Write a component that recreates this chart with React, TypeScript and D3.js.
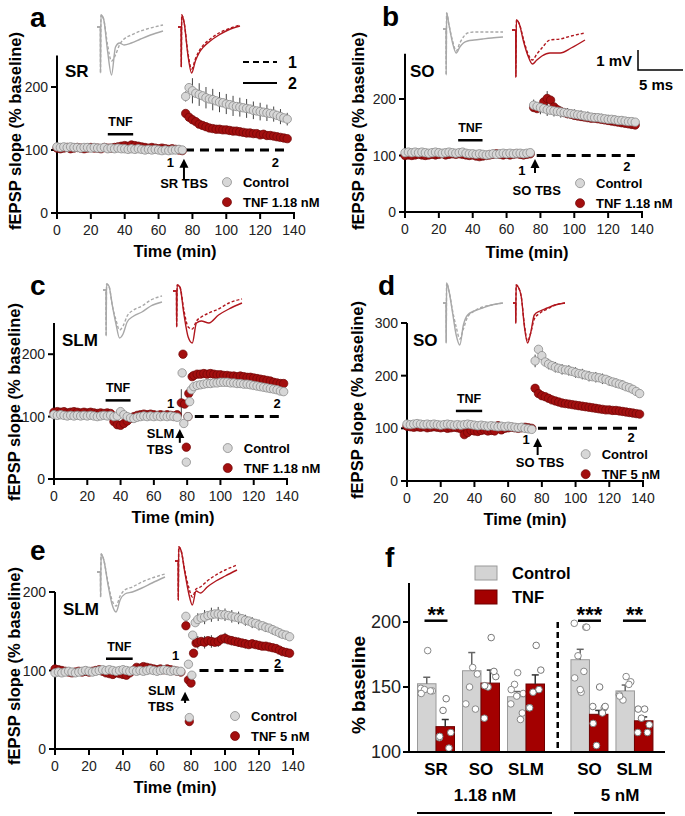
import React from "react";
import * as d3 from "d3";

const FONT = "'Liberation Sans', Arial, Helvetica, sans-serif";
const GRAY_FILL = "#d7d7d7";
const GRAY_STROKE = "#8c8c8c";
const RED_FILL = "#a30f0f";
const RED_STROKE = "#6e0606";
const GRAY_LINE = "#a8a8a8";
const RED_LINE = "#b0161d";

// ---------- time-course data (% baseline) ----------
const BASE_TIMES = d3.range(0, 75, 2); // 0..74 min, every 2 min

// Panel a (SR, 1.18 nM)
const A_CTRL_BASE = [105,104,105,104,105,104,104,103,104,104,103,104,103,103,104,102,103,102,103,102,102,101,102,101,102,101,100,101,100,101,100,99,100,99,100,100,101,100];
const A_TNF_BASE = [103,102,103,104,102,103,104,103,102,103,104,103,103,102,104,103,103,104,105,106,107,106,108,107,106,105,104,103,104,103,102,103,102,101,102,101,100,99];
const A_POST_START = 76;
const A_CTRL_POST = [185,199,194,190,188,186,183,181,180,178,176,175,173,172,170,169,168,167,166,165,163,162,161,160,159,158,157,155,153,151,149];
const A_TNF_POST = [158,152,148,145,141,139,137,135,134,133,133,132,132,131,130,130,129,128,127,127,126,126,124,125,123,123,122,121,120,119,118];
const A_CTRL_SEM = [8,20,18,17,17,16,16,16,15,15,14,14,13,12,12,10];
const A_TNF_SEM = [4,4,4,4,4,4,4,4,4,4,4,4,4,4,4,4];

// Panel b (SO, 1.18 nM)
const B_CTRL_BASE = [105,106,105,106,105,106,105,104,105,106,105,104,105,106,105,104,105,106,104,103,103,102,103,102,101,102,103,102,103,104,103,104,103,104,104,103,104,105];
const B_TNF_BASE = [100,101,100,101,102,101,100,101,102,101,102,103,101,102,103,102,103,102,101,100,101,99,98,99,100,101,102,103,102,101,102,101,102,103,102,101,102,103];
const B_POST_START = 76;
const B_CTRL_POST = [189,187,185,183,181,180,179,178,177,176,175,174,173,172,171,170,169,168,167,167,166,165,164,164,163,162,162,161,160,160,159];
const B_TNF_POST = [185,183,186,195,201,198,186,181,178,176,174,173,171,170,169,168,167,166,166,165,164,163,162,161,160,159,158,157,156,155,154];
const B_CTRL_SEM = [10,12,11,10,10,9,9,9,9,8,8,8,8,7,7,7];
const B_TNF_SEM = [5,5,13,6,5,5,5,5,5,5,5,5,5,5,5,5];

// Panel c (SLM, 1.18 nM)
const C_CTRL_BASE = [103,102,103,102,101,102,101,102,101,102,101,102,101,100,101,102,101,102,100,101,108,103,100,98,97,99,100,101,100,101,100,101,100,101,100,101,100,99];
const C_TNF_BASE = [107,108,107,108,106,107,108,107,106,107,106,107,106,105,106,105,106,105,92,87,86,89,93,97,100,102,103,104,103,104,103,102,103,102,103,102,101,103];
const C_CTRL_TRANS_T = [77, 78, 79.5, 80.5, 81.5, 82.5];
const C_CTRL_TRANS_V = [170, 89, 27, 100, 124, 143];
const C_TNF_TRANS_T = [76.5, 77.5, 78.5, 79.5, 80.5, 81, 83];
const C_TNF_TRANS_V = [122, 200, 120, 51, 100, 137, 164];
const C_TNF_TRANS_SEM = [22, 0, 0, 0, 0, 0, 0];
const C_POST_START = 84;
const C_CTRL_POST = [148,150,151,152,153,153,154,154,155,155,155,154,154,153,153,152,152,151,150,149,148,147,146,145,144,143,141,140];
const C_TNF_POST = [166,168,168,169,168,169,168,167,167,166,166,165,165,164,165,164,163,163,162,161,160,159,158,157,155,154,153,153];
const C_CTRL_SEM = [5,5,5,5,5,5,5,5,5,5,5,5,5,5];
const C_TNF_SEM = [5,5,5,5,5,5,5,5,5,5,5,5,5,5];

// Panel d (SO, 5 nM)
const D_CTRL_BASE = [108,107,108,109,108,107,108,107,108,107,106,107,108,107,106,107,106,107,108,107,106,105,106,105,104,105,104,103,104,103,104,103,102,101,102,100,99,98];
const D_TNF_BASE = [104,103,102,103,102,103,101,102,103,102,101,102,100,101,102,101,99,88,92,96,95,94,96,97,95,96,95,105,97,100,101,102,101,100,101,102,101,100];
const D_POST_START = 76;
const D_CTRL_POST = [228,250,238,226,222,219,216,214,212,211,210,208,206,204,203,201,199,198,197,196,194,193,190,188,186,184,182,179,177,174,170,166];
const D_TNF_POST = [176,166,162,160,157,154,152,150,148,147,146,145,144,143,142,141,140,139,138,137,136,135,135,134,134,133,132,131,130,129,128,127];
const D_CTRL_SEM = [12,10,10,10,10,10,10,10,10,10,10,9,9,9,8,8];
const D_TNF_SEM = [5,5,5,5,5,5,5,5,5,5,5,5,5,5,5,5];

// Panel e (SLM, 5 nM)
const E_CTRL_BASE = [97,98,97,98,99,98,97,98,99,100,99,98,99,100,101,100,101,100,99,100,101,100,99,100,99,100,99,100,101,100,99,100,101,100,99,100,99,99];
const E_TNF_BASE = [102,101,100,99,98,97,98,99,98,99,98,99,100,101,99,97,96,95,97,96,95,94,97,100,104,103,105,104,103,102,101,102,101,102,101,100,99,98];
const E_CTRL_TRANS_T = [77, 78.5, 79, 80.5, 81, 82.5];
const E_CTRL_TRANS_V = [169, 108, 40, 94, 145, 161];
const E_TNF_TRANS_T = [77, 78.5, 79, 80, 81.5, 83];
const E_TNF_TRANS_V = [157, 88, 35, 84, 122, 135];
const E_POST_START = 84;
const E_CTRL_POST = [165,167,168,170,171,172,172,171,171,170,169,168,167,166,164,163,161,160,158,157,155,154,152,150,148,146,145,143];
const E_TNF_POST = [136,137,136,138,137,136,137,140,141,139,138,137,136,135,134,133,134,133,132,131,131,130,129,128,126,124,123,122];
const E_CTRL_SEM = [8,9,9,9,8,8,8,7,7,7,6,6,6,5];
const E_TNF_SEM = [8,8,8,7,7,6,6,6,5,5,5,5,5,5];

// ---------- sample fEPSP traces (mV), 1 = dashed, 2 = solid ----------
const WT = [0, 0.05, 0.053, 0.06, 0.1, 0.16, 0.22, 0.28, 0.34, 0.41, 0.52, 0.66, 0.81, 1.0];
const TR_A_GRAY_2 = [0, 0, -2.3, 0.6, 0.4, -1.2, -2.4, -1.0, -0.8, -0.9, -0.8, -0.6, -0.4, -0.2];
const TR_A_GRAY_1 = [0, 0, -2.3, 0.6, 0.4, -0.9, -1.7, -1.4, -0.9, -0.6, -0.4, -0.2, -0.05, 0.1];
const TR_A_RED_2 = [0, 0, -2.0, 0.6, 0.2, -1.4, -2.3, -1.7, -1.3, -1.0, -0.7, -0.4, -0.15, 0.05];
const TR_A_RED_1 = [0, 0, -2.0, 0.6, 0.2, -1.3, -2.1, -1.6, -1.2, -0.9, -0.6, -0.3, -0.1, 0.1];
const TR_B_GRAY_2 = [0, 0, -2.3, 0.8, 0.2, -0.7, -1.2, -0.9, -0.7, -0.6, -0.55, -0.5, -0.45, -0.4];
const TR_B_GRAY_1 = [0, 0, -2.3, 0.8, 0.2, -0.6, -1.1, -0.7, -0.4, -0.2, -0.15, -0.15, -0.15, -0.15];
const TR_B_RED_2 = [0, 0, -2.35, 0.5, 0.3, -0.6, -1.3, -1.7, -1.5, -1.3, -1.15, -1.15, -0.9, -0.5];
const TR_B_RED_1 = [0, 0, -2.35, 0.5, 0.3, -0.5, -1.2, -1.5, -1.2, -0.9, -0.5, -0.45, -0.3, -0.15];
const TR_C_GRAY_2 = [0, 0, -2.3, 0.3, 0.2, -0.8, -1.7, -2.4, -2.2, -1.6, -1.3, -1.1, -0.8, -0.6];
const TR_C_GRAY_1 = [0, 0, -2.3, 0.3, 0.2, -0.8, -1.5, -2.0, -1.8, -1.3, -1.0, -0.8, -0.5, -0.3];
const TR_C_RED_2 = [0, 0, -1.8, 0.3, 0.2, -1.2, -2.3, -2.6, -1.6, -1.5, -1.6, -1.2, -0.9, -0.6];
const TR_C_RED_1 = [0, 0, -1.8, 0.3, 0.2, -1.0, -1.8, -1.9, -1.5, -1.3, -1.1, -0.9, -0.6, -0.4];
const TR_D_GRAY_2 = [0, 0, -2.0, 1.0, 0.6, -0.5, -1.6, -2.1, -1.1, -0.6, -0.4, -0.25, -0.1, 0];
const TR_D_GRAY_1 = [0, 0, -2.0, 1.0, 0.6, -0.4, -1.2, -1.8, -1.3, -0.7, -0.4, -0.2, -0.1, 0];
const TR_D_RED_2 = [0, 0, -1.0, 0.9, 0.8, 0.3, -1.2, -2.0, -1.5, -0.6, -0.4, -0.25, -0.1, 0];
const TR_D_RED_1 = [0, 0, -1.0, 0.9, 0.8, 0.3, -1.1, -1.9, -1.5, -0.8, -0.5, -0.3, -0.1, 0];
const TR_E_GRAY_2 = [0, 0, -1.25, 0.9, 0.6, -0.6, -1.6, -2.0, -1.4, -1.1, -1.0, -0.8, -0.55, -0.25];
const TR_E_GRAY_1 = [0, 0, -1.25, 0.9, 0.6, -0.5, -1.4, -1.7, -1.2, -0.9, -0.75, -0.5, -0.3, -0.1];
const TR_E_RED_2 = [0, 0, -1.95, 0.7, 0.5, -0.6, -1.6, -2.2, -1.5, -1.6, -1.3, -1.0, -0.75, -0.45];
const TR_E_RED_1 = [0, 0, -1.95, 0.7, 0.5, -0.5, -1.3, -1.8, -1.4, -1.3, -1.0, -0.7, -0.45, -0.2];
const MV_PX = 20;

// ---------- panel f data ----------
const F_REGIONS = ["SR", "SO", "SLM", "SO", "SLM"];
const F_CONC = ["1.18 nM", "5 nM"];
const F_CTRL_MEAN = [152.5, 162.5, 142.5, 171, 147];
const F_CTRL_SEM = [5, 14, 4, 8, 4.5];
const F_TNF_MEAN = [119.5, 153, 152.3, 129, 124];
const F_TNF_SEM = [5.5, 10, 7, 3, 3];
const F_CTRL_PTS = [
  [149, 178, 147, 148, 147, 145],
  [137, 165, 160, 150, 133],
  [137, 161, 130, 152, 125, 148, 145, 143],
  [199, 146, 196, 174, 162, 157, 196, 148],
  [144, 158, 154, 140, 152, 143],
];
const F_TNF_PTS = [
  [111, 141, 115, 132, 103, 112],
  [126, 188, 158, 150, 162, 151],
  [134, 182, 163, 146, 148, 134],
  [135, 150, 134, 105, 130, 122, 135],
  [115, 133, 121, 126, 115, 133],
];
const F_SIG = [
  { group: 0, label: "**" },
  { group: 3, label: "***" },
  { group: 4, label: "**" },
];

type Series = {
  base: number[];
  post: number[];
  postStart: number;
  sem: number[];
  transT?: number[];
  transV?: number[];
  transSem?: number[];
};
type TraceCfg = { x0: number; x1: number; y0: number; solid: number[]; dashed: number[] };

const PANELS = [
  {
    id: "a", letter: "a", letterPos: [30, 27], region: "SR", regionPos: [65, 77],
    x0: 57, x1: 294, yb: 213, yt: 55.5, ymax: 250, yticks: [0, 100, 200],
    ytitle: [21, 131], xtitle: [175, 257],
    ctrl: { base: A_CTRL_BASE, post: A_CTRL_POST, postStart: A_POST_START, sem: A_CTRL_SEM } as Series,
    tnf: { base: A_TNF_BASE, post: A_TNF_POST, postStart: A_POST_START, sem: A_TNF_SEM } as Series,
    tnfBar: [30, 45, 125], dash: [75.6, 136], lab1: [67, 73], lab2: [129, 73],
    arrow: [75, 86, 52], tbs: ["SR TBS"], tbsPos: [75, 40], tbsAnchor: "middle",
    legend: [100.4, 49], tnfLabel: "TNF 1.18 nM",
    gray: { x0: 97, x1: 163, y0: 27, solid: TR_A_GRAY_2, dashed: TR_A_GRAY_1 } as TraceCfg,
    red: { x0: 178, x1: 240, y0: 27, solid: TR_A_RED_2, dashed: TR_A_RED_1 } as TraceCfg,
  },
  {
    id: "b", letter: "b", letterPos: [382, 26], region: "SO", regionPos: [410, 77],
    x0: 405, x1: 642, yb: 212, yt: 53.8, ymax: 280, yticks: [0, 100, 200],
    ytitle: [364, 131], xtitle: [527, 258],
    ctrl: { base: B_CTRL_BASE, post: B_CTRL_POST, postStart: B_POST_START, sem: B_CTRL_SEM } as Series,
    tnf: { base: B_TNF_BASE, post: B_TNF_POST, postStart: B_POST_START, sem: B_TNF_SEM } as Series,
    tnfBar: [31.4, 45.8, 127], dash: [77.8, 135.8], lab1: [69, 65.5], lab2: [131, 73],
    arrow: [76.8, 94, 69], tbs: ["SO TBS"], tbsPos: [77.8, 30], tbsAnchor: "middle",
    legend: [103.4, 51], tnfLabel: "TNF 1.18 nM",
    gray: { x0: 443, x1: 503, y0: 29, solid: TR_B_GRAY_2, dashed: TR_B_GRAY_1 } as TraceCfg,
    red: { x0: 512, x1: 585, y0: 30, solid: TR_B_RED_2, dashed: TR_B_RED_1 } as TraceCfg,
  },
  {
    id: "c", letter: "c", letterPos: [30, 295], region: "SLM", regionPos: [62, 346],
    x0: 54, x1: 287, yb: 479, yt: 323, ymax: 250, yticks: [0, 100, 200],
    ytitle: [20, 402], xtitle: [173, 523],
    ctrl: { base: C_CTRL_BASE, post: C_CTRL_POST, postStart: C_POST_START, sem: C_CTRL_SEM, transT: C_CTRL_TRANS_T, transV: C_CTRL_TRANS_V } as Series,
    tnf: { base: C_TNF_BASE, post: C_TNF_POST, postStart: C_POST_START, sem: C_TNF_SEM, transT: C_TNF_TRANS_T, transV: C_TNF_TRANS_V, transSem: C_TNF_TRANS_SEM } as Series,
    tnfBar: [31, 46, 126], dash: [84.6, 137], lab1: [70, 113.6], lab2: [134, 113.6],
    arrow: [75.6, 80, 58], tbs: ["SLM", "TBS"], tbsPos: [55.8, 65.6], tbsAnchor: "start",
    legend: [104.4, 49.6], tnfLabel: "TNF 1.18 nM",
    gray: { x0: 103, x1: 162, y0: 290, solid: TR_C_GRAY_2, dashed: TR_C_GRAY_1 } as TraceCfg,
    red: { x0: 173, x1: 242, y0: 291, solid: TR_C_RED_2, dashed: TR_C_RED_1 } as TraceCfg,
  },
  {
    id: "d", letter: "d", letterPos: [378, 295], region: "SO", regionPos: [413, 346],
    x0: 407, x1: 643, yb: 481, yt: 323, ymax: 300, yticks: [0, 100, 200, 300],
    ytitle: [363, 400], xtitle: [525, 525],
    ctrl: { base: D_CTRL_BASE, post: D_CTRL_POST, postStart: D_POST_START, sem: D_CTRL_SEM } as Series,
    tnf: { base: D_TNF_BASE, post: D_TNF_POST, postStart: D_POST_START, sem: D_TNF_SEM } as Series,
    tnfBar: [29, 44.6, 133], dash: [77.7, 137], lab1: [70.6, 71], lab2: [133, 74],
    arrow: [77.5, 81.6, 49.3], tbs: ["SO TBS"], tbsPos: [78.9, 26.6], tbsAnchor: "middle",
    legend: [106, 51], tnfLabel: "TNF 5 nM",
    gray: { x0: 443, x1: 503, y0: 303, solid: TR_D_GRAY_2, dashed: TR_D_GRAY_1 } as TraceCfg,
    red: { x0: 513, x1: 565, y0: 303, solid: TR_D_RED_2, dashed: TR_D_RED_1 } as TraceCfg,
  },
  {
    id: "e", letter: "e", letterPos: [30, 560], region: "SLM", regionPos: [63, 615],
    x0: 55, x1: 293, yb: 749, yt: 592, ymax: 200, yticks: [0, 100, 200],
    ytitle: [20, 666], xtitle: [175, 793],
    ctrl: { base: E_CTRL_BASE, post: E_CTRL_POST, postStart: E_POST_START, sem: E_CTRL_SEM, transT: E_CTRL_TRANS_T, transV: E_CTRL_TRANS_V } as Series,
    tnf: { base: E_TNF_BASE, post: E_TNF_POST, postStart: E_POST_START, sem: E_TNF_SEM, transT: E_TNF_TRANS_T, transV: E_TNF_TRANS_V } as Series,
    tnfBar: [30, 45.7, 115], dash: [85, 136], lab1: [71, 113], lab2: [131, 103],
    arrow: [76.5, 73, 58.6], tbs: ["SLM", "TBS"], tbsPos: [54.7, 69], tbsAnchor: "start",
    legend: [105.9, 42], tnfLabel: "TNF 5 nM",
    gray: { x0: 97, x1: 165, y0: 572, solid: TR_E_GRAY_2, dashed: TR_E_GRAY_1 } as TraceCfg,
    red: { x0: 175, x1: 237, y0: 561, solid: TR_E_RED_2, dashed: TR_E_RED_1 } as TraceCfg,
  },
];

const X_TICKS = d3.range(0, 141, 20);

function buildPoints(s: Series) {
  const arr: { t: number; v: number; e: number }[] = s.base.map((v, i) => ({ t: BASE_TIMES[i], v, e: 0 }));
  if (s.transT && s.transV) {
    s.transT.forEach((t, i) => arr.push({ t, v: s.transV![i], e: s.transSem ? s.transSem[i] : 0 }));
  }
  s.post.forEach((v, i) => arr.push({ t: s.postStart + 2 * i, v, e: i % 2 === 0 ? s.sem[i / 2] ?? 0 : 0 }));
  return arr;
}

function Trace({ tr, color }: { tr: TraceCfg; color: string }) {
  const sx = d3.scaleLinear().domain([0, 1]).range([tr.x0, tr.x1]);
  const line = d3
    .line<number>()
    .x((_, i) => sx(WT[i]))
    .y((v) => tr.y0 - v * MV_PX)
    .curve(d3.curveMonotoneX);
  return (
    <g fill="none" stroke={color} strokeWidth={1.4}>
      <path d={line(tr.dashed) || ""} strokeDasharray="3 2" />
      <path d={line(tr.solid) || ""} />
    </g>
  );
}

function TimePanel({ p }: { p: any }) {
  const x = d3.scaleLinear().domain([0, 140]).range([p.x0, p.x1]);
  const y = d3.scaleLinear().domain([0, p.ymax]).range([p.yb, p.yt]);
  const ctrlPts = buildPoints(p.ctrl);
  const tnfPts = buildPoints(p.tnf);
  const ax = x(p.arrow[0]);
  const tipY = y(p.arrow[1]);
  const tailY = y(p.arrow[2]);
  const lx = x(p.legend[0]);
  const ly = y(p.legend[1]);
  return (
    <g>
      <text x={p.letterPos[0]} y={p.letterPos[1]} fontSize={28} fontWeight="bold">{p.letter}</text>
      <Trace tr={p.gray} color={GRAY_LINE} />
      <Trace tr={p.red} color={RED_LINE} />
      <text x={p.regionPos[0]} y={p.regionPos[1]} fontSize={17} fontWeight="bold">{p.region}</text>

      {/* axes */}
      <line x1={p.x0} x2={p.x0} y1={y(0) + 1} y2={y(p.ymax)} stroke="#000" strokeWidth={2} />
      <line x1={p.x0 - 1} x2={p.x1 + 1} y1={y(0)} y2={y(0)} stroke="#000" strokeWidth={2} />
      {p.yticks.map((t: number) => (
        <g key={"y" + t}>
          <line x1={p.x0 - 6} x2={p.x0} y1={y(t)} y2={y(t)} stroke="#000" strokeWidth={2} />
          <text x={p.x0 - 9} y={y(t)} dy="0.36em" textAnchor="end" fontSize={14} fill="#222">{t}</text>
        </g>
      ))}
      {X_TICKS.map((t) => (
        <g key={"x" + t}>
          <line x1={x(t)} x2={x(t)} y1={y(0)} y2={y(0) + 6} stroke="#000" strokeWidth={2} />
          <text x={x(t)} y={y(0) + 22} textAnchor="middle" fontSize={14} fill="#222">{t}</text>
        </g>
      ))}
      <text x={p.xtitle[0]} y={p.xtitle[1]} textAnchor="middle" fontSize={16.5} fontWeight="bold">Time (min)</text>
      <text transform={`translate(${p.ytitle[0]},${p.ytitle[1]}) rotate(-90)`} textAnchor="middle" fontSize={16.5} fontWeight="bold">
        fEPSP slope (% baseline)
      </text>

      {/* TNF application bar */}
      <line x1={x(p.tnfBar[0])} x2={x(p.tnfBar[1])} y1={y(p.tnfBar[2])} y2={y(p.tnfBar[2])} stroke="#000" strokeWidth={2.5} />
      <text x={x((p.tnfBar[0] + p.tnfBar[1]) / 2)} y={y(p.tnfBar[2]) - 8} textAnchor="middle" fontSize={12.5} fontWeight="bold">TNF</text>

      {/* 100% reference dashed line */}
      <line x1={x(p.dash[0])} x2={x(p.dash[1])} y1={y(100)} y2={y(100)} stroke="#000" strokeWidth={3} strokeDasharray="9 6" />
      <text x={x(p.lab1[0])} y={y(p.lab1[1])} textAnchor="middle" fontSize={13} fontWeight="bold">1</text>
      <text x={x(p.lab2[0])} y={y(p.lab2[1])} textAnchor="middle" fontSize={13} fontWeight="bold">2</text>

      {/* error bars */}
      {[...tnfPts, ...ctrlPts].filter((d) => d.e > 0).map((d, i) => (
        <line key={"e" + i} x1={x(d.t)} x2={x(d.t)} y1={y(d.v - d.e)} y2={y(d.v + d.e)} stroke="#444" strokeWidth={1} />
      ))}
      {/* dots: TNF first, control on top */}
      {tnfPts.map((d, i) => (
        <circle key={"t" + i} cx={x(d.t)} cy={y(d.v)} r={4.2} fill={RED_FILL} stroke={RED_STROKE} strokeWidth={0.7} />
      ))}
      {ctrlPts.map((d, i) => (
        <circle key={"c" + i} cx={x(d.t)} cy={y(d.v)} r={4.2} fill={GRAY_FILL} stroke={GRAY_STROKE} strokeWidth={0.8} />
      ))}

      {/* TBS arrow */}
      <line x1={ax} x2={ax} y1={tipY + 7} y2={tailY} stroke="#000" strokeWidth={2} />
      <path d={`M${ax},${tipY} L${ax - 4.5},${tipY + 9} L${ax + 4.5},${tipY + 9} Z`} fill="#000" />
      {p.tbs.map((s: string, i: number) => (
        <text key={s} x={x(p.tbsPos[0])} y={y(p.tbsPos[1]) + i * 16} textAnchor={p.tbsAnchor} fontSize={13} fontWeight="bold">{s}</text>
      ))}

      {/* legend */}
      <circle cx={lx} cy={ly} r={4.5} fill={GRAY_FILL} stroke={GRAY_STROKE} strokeWidth={0.8} />
      <text x={lx + 16} y={ly} dy="0.36em" fontSize={13} fontWeight="bold">Control</text>
      <circle cx={lx} cy={ly + 20} r={4.5} fill={RED_FILL} stroke={RED_STROKE} strokeWidth={0.7} />
      <text x={lx + 16} y={ly + 20} dy="0.36em" fontSize={13} fontWeight="bold">{p.tnfLabel}</text>
    </g>
  );
}

function TraceLegendAndScale() {
  return (
    <g>
      {/* 1 / 2 legend in panel a */}
      <line x1={243} x2={277} y1={62} y2={62} stroke="#000" strokeWidth={2.2} strokeDasharray="6 4" />
      <text x={288} y={62} dy="0.36em" fontSize={16} fontWeight="bold">1</text>
      <line x1={243} x2={277} y1={83} y2={83} stroke="#000" strokeWidth={2.2} />
      <text x={288} y={83} dy="0.36em" fontSize={16} fontWeight="bold">2</text>
      {/* scale bar in panel b */}
      <path d="M638,50 L638,70 L683,70" fill="none" stroke="#000" strokeWidth={1.5} />
      <text x={632} y={66} textAnchor="end" fontSize={15} fontWeight="bold">1 mV</text>
      <text x={656} y={90} textAnchor="middle" fontSize={15} fontWeight="bold">5 ms</text>
    </g>
  );
}

const JITTER = [-0.32, 0.05, 0.3, -0.12, 0.2, -0.3, 0.35, 0.0, -0.2];

function BarPanel() {
  const y = d3.scaleLinear().domain([100, 230]).range([752, 583]);
  const gpos = F_REGIONS.map((_, i) => i + (i >= 3 ? 0.41 : 0));
  const gx = d3.scaleLinear().domain([0, 1]).range([436, 481]);
  const bw = 18.5;
  const x0 = 409;
  const bars = (means: number[], sems: number[], pts: number[][], ctrl: boolean) =>
    means.map((m, i) => {
      const c = gx(gpos[i]);
      const left = ctrl ? c - bw : c;
      const mid = left + bw / 2;
      return (
        <g key={(ctrl ? "c" : "t") + i}>
          <rect x={left} y={y(m)} width={bw} height={y(100) - y(m)} fill={ctrl ? "#d3d3d3" : "#a30000"} stroke={ctrl ? "#9a9a9a" : "#6e0000"} strokeWidth={1} />
          <line x1={mid} x2={mid} y1={y(m)} y2={y(m + sems[i])} stroke={ctrl ? "#666" : "#333"} strokeWidth={1.5} />
          <line x1={mid - 3.5} x2={mid + 3.5} y1={y(m + sems[i])} y2={y(m + sems[i])} stroke={ctrl ? "#666" : "#333"} strokeWidth={1.5} />
          {pts[i].map((v, j) => (
            <circle key={j} cx={mid + JITTER[j % JITTER.length] * bw} cy={y(v)} r={3.3} fill="#fff" stroke={ctrl ? "#888" : "#777"} strokeWidth={1} />
          ))}
        </g>
      );
    });
  return (
    <g>
      <text x={385} y={567} fontSize={28} fontWeight="bold">f</text>
      {/* legend */}
      <rect x={475} y={566} width={22} height={14} fill="#d3d3d3" stroke="#9a9a9a" />
      <text x={512} y={579} fontSize={16.5} fontWeight="bold">Control</text>
      <rect x={475} y={590} width={22} height={14} fill="#a30000" stroke="#6e0000" />
      <text x={512} y={603} fontSize={16.5} fontWeight="bold">TNF</text>

      {bars(F_CTRL_MEAN, F_CTRL_SEM, F_CTRL_PTS, true)}
      {bars(F_TNF_MEAN, F_TNF_SEM, F_TNF_PTS, false)}

      {/* axes */}
      <line x1={x0} x2={x0} y1={y(100) + 1} y2={y(230)} stroke="#000" strokeWidth={2} />
      <line x1={x0 - 1} x2={665} y1={y(100)} y2={y(100)} stroke="#000" strokeWidth={2} />
      {[100, 150, 200].map((t) => (
        <g key={t}>
          <line x1={x0 - 6} x2={x0} y1={y(t)} y2={y(t)} stroke="#000" strokeWidth={2} />
          <text x={x0 - 8} y={y(t)} dy="0.36em" textAnchor="end" fontSize={18} fill="#222">{t}</text>
        </g>
      ))}
      <text transform={`translate(365,685) rotate(-90)`} textAnchor="middle" fontSize={19} fontWeight="bold">% baseline</text>

      {/* separator */}
      <line x1={(gx(gpos[2]) + gx(gpos[3])) / 2} x2={(gx(gpos[2]) + gx(gpos[3])) / 2} y1={y(200)} y2={y(100)} stroke="#000" strokeWidth={2.5} strokeDasharray="6 4" />

      {/* significance */}
      {F_SIG.map((s) => {
        const c = gx(gpos[s.group]);
        return (
          <g key={s.group}>
            <line x1={c - 11.5} x2={c + 11.5} y1={y(201)} y2={y(201)} stroke="#000" strokeWidth={2.5} />
            <text x={c} y={y(201) + 1} textAnchor="middle" fontSize={22} fontWeight="bold">{s.label}</text>
          </g>
        );
      })}

      {/* category labels */}
      {F_REGIONS.map((r, i) => (
        <text key={i} x={gx(gpos[i])} y={775} textAnchor="middle" fontSize={17} fontWeight="bold">{r}</text>
      ))}
      <text x={485} y={801} textAnchor="middle" fontSize={17} fontWeight="bold">{F_CONC[0]}</text>
      <text x={620} y={801} textAnchor="middle" fontSize={17} fontWeight="bold">{F_CONC[1]}</text>
      <line x1={417} x2={552} y1={813} y2={813} stroke="#000" strokeWidth={2} />
      <line x1={574} x2={665} y1={813} y2={813} stroke="#000" strokeWidth={2} />
    </g>
  );
}

export default function App() {
  return (
    <svg
      width={685}
      height={816}
      viewBox="0 0 685 816"
      style={{ position: "absolute", left: 0, top: 0, background: "#fff" }}
      fontFamily={FONT}
    >
      <rect width={685} height={816} fill="#fff" />
      {PANELS.map((p) => (
        <TimePanel key={p.id} p={p} />
      ))}
      <TraceLegendAndScale />
      <BarPanel />
    </svg>
  );
}
